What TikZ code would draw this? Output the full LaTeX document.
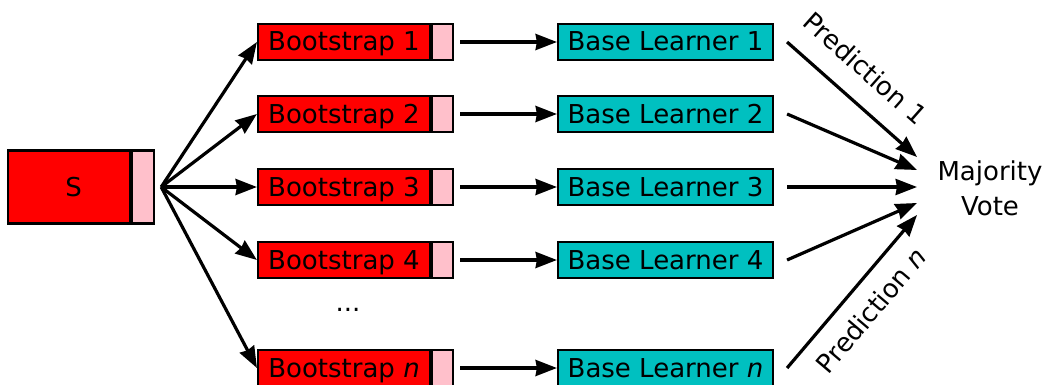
\documentclass[tikz,border=0pt]{standalone}
\usepackage{fontspec}
\setmainfont{DejaVu Sans}
\usetikzlibrary{arrows.meta}
\definecolor{sampred}{RGB}{255,0,0}
\definecolor{sampink}{RGB}{255,192,203}
\definecolor{learnteal}{RGB}{0,192,192}
\tikzset{
  box/.style={draw,line width=1.6pt,inner sep=0pt,minimum height=27.4pt,text height=13.5pt,text depth=0pt},
  boot/.style={box,fill=sampred,minimum width=129pt},
  tail/.style={box,fill=sampink,minimum width=15.75pt,anchor=west},
  learner/.style={box,fill=learnteal,minimum width=161.25pt},
  arr/.style={line width=2.4pt,-{Stealth[length=16pt,width=12pt,inset=1pt]}},
}
\begin{document}
\begin{tikzpicture}[x=0.75pt,y=-0.75pt,font=\fontsize{19.5}{26}\selectfont]
\useasboundingbox (0,0) rectangle (1046,385);
% the sample and its tail
\node[box,fill=sampred,minimum width=91.5pt,minimum height=54.75pt,
  label={[xshift=3.5pt]center:S}] (s) at (69,187) {};
\node[tail,minimum width=16.5pt,minimum height=54.75pt] (stail) at (s.east) {};
\coordinate (fan) at ([xshift=4.5pt]stail.east);
\node[align=center] (vote) at (990,188) {Majority\\Vote};
\node (dots) at (348,310) {...};
% one row per bootstrap sample
\foreach \i/\t/\y/\e in {1/1/42/157,2/2/114/170,3/3/187/187,4/4/260/203,5/\textit{n}/368/215}{
  \node[boot] (b\i) at (344,\y) {Bootstrap \t};
  \node[tail] (bt\i) at (b\i.east) {};
  \node[learner] (l\i) at (665.5,\y) {Base Learner \t};
  \coordinate (out\i) at ([xshift=9.75pt]l\i.east);
  \coordinate (in\i) at (917,\e);
  \draw[arr] (fan) -- (b\i.west);
  \draw[arr,shorten <=4.5pt] (bt\i.east) -- (l\i.west);
}
\foreach \i in {2,3,4}
  \draw[arr] (out\i) -- (in\i);
\draw[arr] (out1) -- node[sloped,pos=.44,above=12pt]{Prediction 1} (in1);
\draw[arr] (out5) -- node[sloped,pos=.49,below=8pt]{Prediction \textit{n}} (in5);
\end{tikzpicture}
\end{document}
